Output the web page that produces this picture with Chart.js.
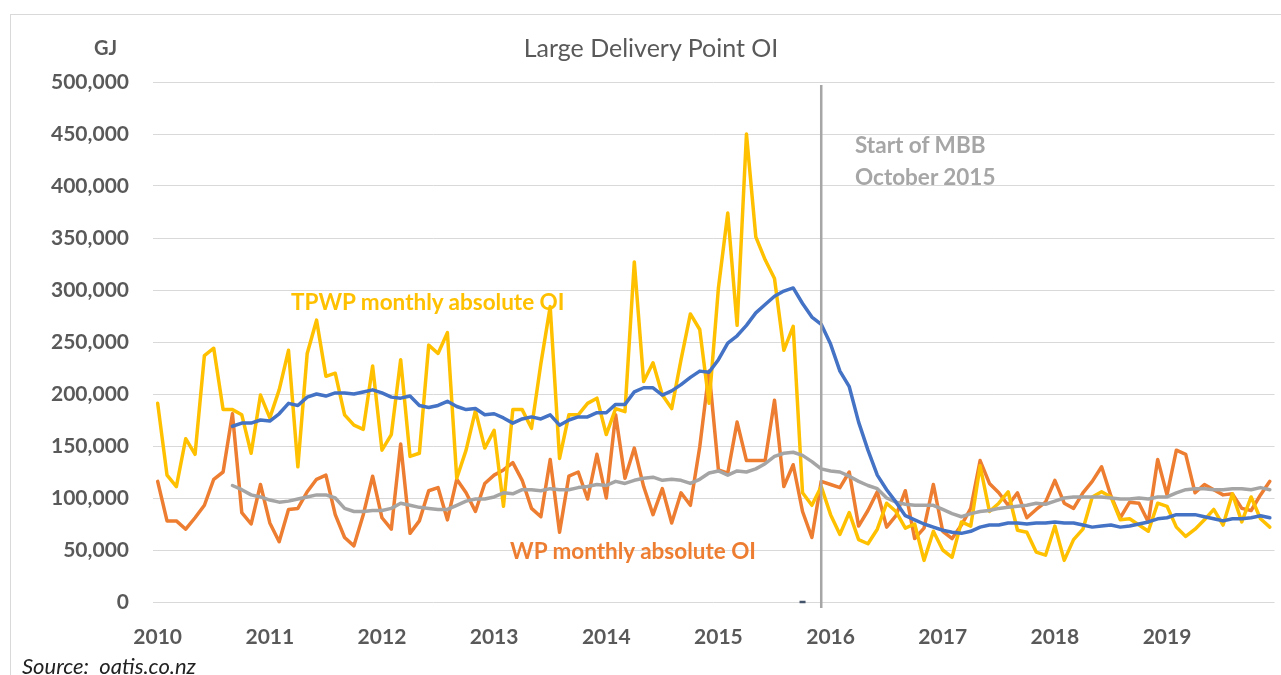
<!DOCTYPE html>
<html>
<head>
<meta charset="utf-8">
<title>Large Delivery Point OI</title>
<script src="https://cdn.jsdelivr.net/npm/chart.js@4.4.1/dist/chart.umd.min.js"></script>
<style>
  body { margin: 0; background: #fff; font-family: Lato, "Open Sans", sans-serif; }
  #wrap { position: relative; width: 1281px; height: 675px; overflow: hidden; }
  #frame { position: absolute; left: 10px; top: 14px; width: 1300px; height: 700px; border: 1px solid #d9d9d9; box-sizing: border-box; pointer-events: none; }
  .lbl { position: absolute; white-space: nowrap; line-height: 26px; }
  #title { left: 0; width: 1302px; top: 34px; text-align: center; font-size: 25px; color: #595959; }
  #unit { left: 94px; top: 34px; font-size: 20px; font-weight: bold; color: #595959; }
  #tpwp { left: 291px; top: 289px; font-size: 22.5px; font-weight: bold; color: #ffc000; }
  #wp { left: 510px; top: 538px; font-size: 22.5px; font-weight: bold; color: #ed7d31; }
  #mbb { left: 855px; top: 129px; font-size: 22.5px; font-weight: bold; color: #a6a6a6; line-height: 32px; }
  #src { left: 22px; top: 653px; font-size: 22px; font-style: italic; color: #222; }
</style>
</head>
<body>
<div id="wrap">
  <canvas id="chart"></canvas>
  <div id="frame"></div>
  <div class="lbl" id="title">Large Delivery Point OI</div>
  <div class="lbl" id="unit">GJ</div>
  <div class="lbl" id="tpwp">TPWP monthly absolute OI</div>
  <div class="lbl" id="wp">WP monthly absolute OI</div>
  <div class="lbl" id="mbb">Start of MBB<br>October 2015</div>
  <div class="lbl" id="src">Source:&nbsp; oatis.co.nz</div>
</div>
<script>
// monthly values, Jan 2010 .. Dec 2019 (GJ)
let years = ['2010', '2011', '2012', '2013', '2014', '2015', '2016', '2017', '2018', '2019'];

let tpwpMonthly = [
    191000, 122000, 111000, 157000, 142000, 237000, 244000, 185000, 185000, 180000, 143000, 199000,
    177000, 204000, 242000, 130000, 239000, 271000, 217000, 220000, 180000, 170000, 166000, 227000,
    146000, 161000, 233000, 140000, 143000, 247000, 239000, 259000, 119000, 146000, 184000, 148000,
    165000, 92000, 185000, 185000, 167000, 229000, 284000, 138000, 180000, 180000, 191000, 196000,
    161000, 186000, 183000, 327000, 212000, 230000, 199000, 186000, 233000, 277000, 262000, 191000,
    302000, 374000, 266000, 450000, 351000, 329000, 311000, 242000, 265000, 105000, 93000, 111000,
    84000, 65000, 86000, 60000, 56000, 70000, 95000, 87000, 71000, 75000, 40000, 68000,
    50000, 43000, 77000, 73000, 131000, 87000, 95000, 106000, 69000, 67000, 48000, 45000,
    73000, 40000, 60000, 70000, 101000, 106000, 101000, 79000, 80000, 74000, 68000, 95000,
    92000, 72000, 63000, 70000, 79000, 89000, 74000, 104000, 77000, 101000, 80000, 72000
];

let wpMonthly = [
    116000, 78000, 78000, 70000, 81000, 93000, 118000, 125000, 181000, 86000, 75000, 113000,
    76000, 58000, 89000, 90000, 106000, 118000, 122000, 84000, 62000, 54000, 84000, 121000,
    81000, 70000, 152000, 66000, 78000, 107000, 110000, 79000, 118000, 105000, 87000, 114000,
    122000, 127000, 134000, 117000, 90000, 82000, 137000, 67000, 121000, 125000, 99000, 142000,
    100000, 180000, 119000, 148000, 111000, 84000, 109000, 76000, 105000, 93000, 149000, 222000,
    127000, 124000, 173000, 136000, 136000, 136000, 194000, 111000, 132000, 87000, 62000, 116000,
    113000, 110000, 125000, 73000, 88000, 106000, 72000, 83000, 107000, 61000, 71000, 113000,
    68000, 61000, 74000, 90000, 136000, 114000, 105000, 93000, 105000, 81000, 89000, 96000,
    117000, 95000, 90000, 105000, 116000, 130000, 102000, 81000, 96000, 95000, 77000, 137000,
    103000, 146000, 142000, 105000, 113000, 108000, 103000, 104000, 90000, 88000, 103000, 116000
];

let tpwpAverage = [
    null, null, null, null, null, null, null, null, 169000, 172000, 172000, 175000,
    174000, 181000, 191000, 189000, 197000, 200000, 198000, 201000, 201000, 200000, 202000, 204000,
    201000, 197000, 196000, 198000, 189000, 187000, 189000, 193000, 188000, 185000, 186000, 180000,
    181000, 177000, 172000, 176000, 178000, 176000, 180000, 170000, 175000, 178000, 178000, 182000,
    182000, 190000, 190000, 202000, 206000, 206000, 199000, 203000, 209000, 216000, 222000, 221000,
    233000, 249000, 256000, 266000, 278000, 286000, 294000, 299000, 302000, 287000, 274000, 267000,
    248000, 222000, 207000, 173000, 146000, 122000, 108000, 96000, 83000, 79000, 75000, 72000,
    69000, 67000, 66000, 68000, 72000, 74000, 74000, 76000, 76000, 75000, 76000, 76000,
    77000, 76000, 76000, 74000, 72000, 73000, 74000, 72000, 73000, 75000, 77000, 80000,
    81000, 84000, 84000, 84000, 82000, 80000, 78000, 80000, 80000, 81000, 83000, 81000
];

let wpAverage = [
    null, null, null, null, null, null, null, null, 112000, 108000, 103000, 101000,
    98000, 96000, 97000, 99000, 101000, 103000, 103000, 100000, 90000, 87000, 87000, 88000,
    88000, 90000, 95000, 93000, 91000, 90000, 89000, 89000, 93000, 97000, 99000, 99000,
    101000, 105000, 104000, 108000, 108000, 107000, 109000, 108000, 108000, 110000, 111000, 113000,
    112000, 116000, 114000, 117000, 119000, 120000, 117000, 118000, 117000, 114000, 118000, 124000,
    126000, 122000, 126000, 125000, 128000, 133000, 140000, 143000, 144000, 141000, 135000, 128000,
    126000, 125000, 121000, 116000, 112000, 109000, 100000, 96000, 94000, 93000, 93000, 93000,
    89000, 85000, 82000, 85000, 87000, 88000, 90000, 91000, 92000, 93000, 95000, 94000,
    97000, 100000, 101000, 101000, 101000, 101000, 100000, 99000, 99000, 100000, 99000, 101000,
    101000, 105000, 108000, 109000, 109000, 108000, 108000, 109000, 109000, 108000, 110000, 108000
];

let mbbMonth = 71;      // vertical "Start of MBB" line
let markerMonth = 69;   // small dash on the axis
let markerValue = 0;

function toPoints(values) {
    return values.map((v, i) => ({ x: i, y: v }));
}

// vertical line for start of MBB
const mbbLine = {
    id: 'mbbLine',
    afterDatasetsDraw(chart) {
        let xs = chart.scales.x;
        let ys = chart.scales.y;
        let ctx = chart.ctx;
        let px = xs.getPixelForValue(mbbMonth);
        ctx.save();
        ctx.strokeStyle = '#a6a6a6';
        ctx.lineWidth = 2.5;
        ctx.beginPath();
        ctx.moveTo(px, ys.getPixelForValue(497000));
        ctx.lineTo(px, ys.getPixelForValue(0) + 6);
        ctx.stroke();
        ctx.restore();
    }
};

let markerData = tpwpMonthly.map((v, i) => (i === markerMonth ? markerValue : null));

let ctx = document.getElementById('chart').getContext('2d');
let chart = new Chart(ctx, {
    type: 'line',
    data: {
        datasets: [{
            label: 'TPWP 12 month average',
            data: toPoints(tpwpAverage),
            borderColor: '#4472c4',
            borderWidth: 3.5
        }, {
            label: 'WP 12 month average',
            data: toPoints(wpAverage),
            borderColor: '#a5a5a5',
            borderWidth: 3.5
        }, {
            label: 'TPWP monthly absolute OI',
            data: toPoints(tpwpMonthly),
            borderColor: '#ffc000',
            borderWidth: 3.5
        }, {
            label: 'WP monthly absolute OI',
            data: toPoints(wpMonthly),
            borderColor: '#ed7d31',
            borderWidth: 3.5
        }, {
            label: 'marker',
            data: toPoints(markerData),
            showLine: false,
            pointStyle: 'line',
            pointRadius: 3,
            pointBorderWidth: 2.5,
            pointBorderColor: '#44546a',
            clip: false
        }]
    },
    options: {
        responsive: true,
        maintainAspectRatio: false,
        animation: false,
        layout: { padding: { left: 0, top: 82, right: 5, bottom: 0 } },
        elements: {
            line: { tension: 0, fill: false, borderCapStyle: 'round', borderJoinStyle: 'round' },
            point: { radius: 0 }
        },
        plugins: {
            legend: { display: false },
            title: { display: false },
            tooltip: { enabled: false }
        },
        scales: {
            x: {
                type: 'linear',
                min: -0.5,
                max: 119.5,
                afterFit(scale) { scale.height = 73; },
                afterBuildTicks(scale) {
                    scale.ticks = years.map((y, k) => ({ value: k * 12 }));
                },
                grid: { display: false },
                border: { display: false },
                ticks: {
                    padding: 15,
                    maxRotation: 0,
                    autoSkip: false,
                    color: '#595959',
                    font: { family: 'Lato', size: 21, weight: 'bold' },
                    callback: (v) => years[v / 12]
                }
            },
            y: {
                min: 0,
                max: 500000,
                afterFit(scale) { scale.width = 153; },
                grid: { color: '#d9d9d9', lineWidth: 1, drawTicks: false },
                border: { display: false },
                ticks: {
                    stepSize: 50000,
                    padding: 24,
                    color: '#595959',
                    font: { family: 'Lato', size: 21, weight: 'bold' },
                    callback: (v) => v.toLocaleString('en-US')
                }
            }
        }
    },
    plugins: [mbbLine]
});
</script>
</body>
</html>
